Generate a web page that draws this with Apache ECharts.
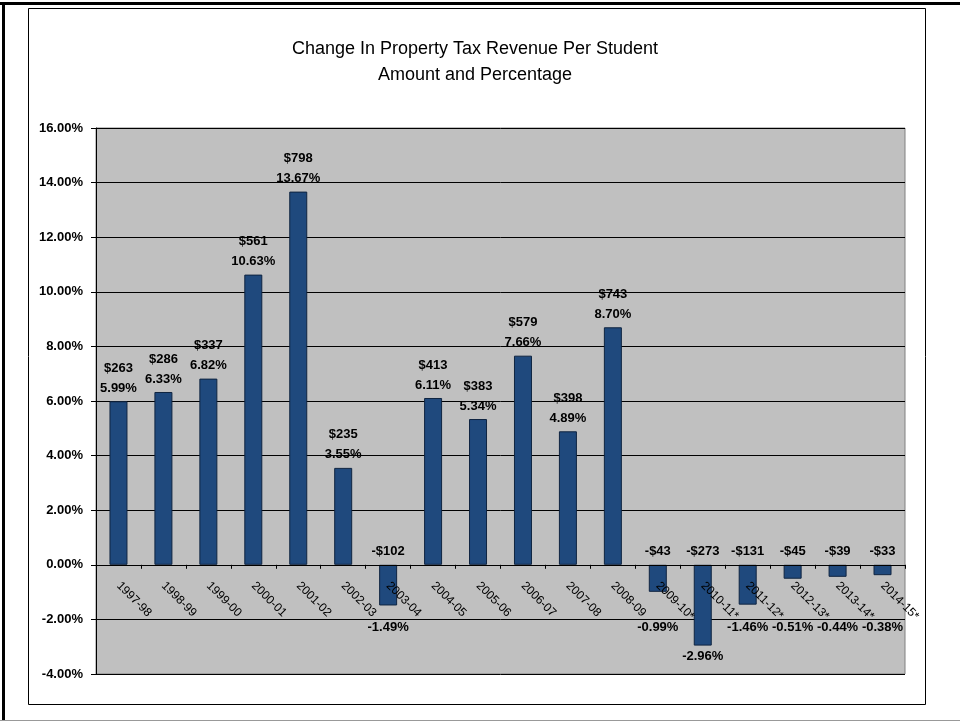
<!DOCTYPE html>
<html>
<head>
<meta charset="utf-8">
<script src="https://cdn.jsdelivr.net/npm/echarts@6/dist/echarts.min.js"></script>
<style>
html,body{margin:0;padding:0;background:#fff;}
#chart{width:960px;height:721px;}
</style>
</head>
<body>
<div id="chart"></div>
<script>
const categories = ['1997-98','1998-99','1999-00','2000-01','2001-02','2002-03','2003-04','2004-05','2005-06','2006-07','2007-08','2008-09','2009-10*','2010-11*','2011-12*','2012-13*','2013-14*','2014-15*'];
const pctChange = [5.99,6.33,6.82,10.63,13.67,3.55,-1.49,6.11,5.34,7.66,4.89,8.70,-0.99,-2.96,-1.46,-0.51,-0.44,-0.38];
const dollarChange = [263,286,337,561,798,235,-102,413,383,579,398,743,-43,-273,-131,-45,-39,-33];
const yTicks = {min: -4, max: 16, step: 2};
const titleLines = ['Change In Property Tax Revenue Per Student', 'Amount and Percentage'];

const fmtDollar = v => (v < 0 ? '-$' : '$') + Math.abs(v);
const fmtPct = v => v.toFixed(2) + '%';
const labelFont = {fontFamily: 'Liberation Sans, Arial, sans-serif', fontWeight: 'bold', fontSize: 13, color: '#000'};

const grid = {left: 96, right: 55, top: 128, bottom: 47};
const gridHeight = 721 - grid.top - grid.bottom;
// category axis sits on the zero line of the value axis
const zeroOffset = -gridHeight * (0 - yTicks.min) / (yTicks.max - yTicks.min);
const zeroY = grid.top + gridHeight * yTicks.max / (yTicks.max - yTicks.min);

const chart = echarts.init(document.getElementById('chart'));
chart.setOption({
  animation: false,
  backgroundColor: '#fff',
  title: {
    text: titleLines.join('\n'),
    left: 470, top: 31, textAlign: 'center',
    textStyle: {fontFamily: 'Liberation Sans Narrow, Arial Narrow, Liberation Sans, sans-serif', fontWeight: 'normal', fontSize: 18, lineHeight: 26, color: '#000'}
  },
  graphic: [
    {type: 'rect', shape: {x: 28.5, y: 8.5, width: 897, height: 696}, style: {fill: null, stroke: '#000', lineWidth: 1}, z: -1},
    {type: 'line', shape: {x1: 0, y1: 3.5, x2: 960, y2: 3.5}, style: {stroke: '#000', lineWidth: 3}},
    {type: 'line', shape: {x1: 3.5, y1: 2, x2: 3.5, y2: 721}, style: {stroke: '#000', lineWidth: 3}},
    {type: 'line', shape: {x1: 0, y1: 720.5, x2: 960, y2: 720.5}, style: {stroke: '#999', lineWidth: 1}}
  ],
  grid: Object.assign({show: true, backgroundColor: '#c0c0c0', borderColor: '#808080', borderWidth: 1}, grid),
  xAxis: {
    type: 'category',
    data: categories,
    position: 'bottom',
    offset: zeroOffset,
    z: 5,
    axisLine: {onZero: false, lineStyle: {color: '#000', width: 1}},
    axisTick: {show: true, length: 4, lineStyle: {color: '#000'}},
    axisLabel: {rotate: -45, margin: 19, interval: 0, fontFamily: 'Liberation Sans, Arial, sans-serif', fontSize: 12, color: '#000'}
  },
  yAxis: {
    type: 'value',
    min: yTicks.min, max: yTicks.max, interval: yTicks.step,
    axisLine: {show: true, lineStyle: {color: '#000'}},
    axisTick: {show: true, length: 5, lineStyle: {color: '#000'}},
    splitLine: {show: true, lineStyle: {color: '#000', width: 1}},
    axisLabel: {margin: 13, formatter: v => fmtPct(v), fontFamily: 'Liberation Sans, Arial, sans-serif', fontWeight: 'bold', fontSize: 13, color: '#000'}
  },
  series: [
    {
      type: 'bar',
      data: pctChange,
      barWidth: 18,
      itemStyle: {color: '#1f497d', borderColor: '#0f2440', borderWidth: 1},
      label: Object.assign({
        show: true, position: 'top', distance: 3, lineHeight: 20,
        formatter: p => p.value >= 0 ? fmtDollar(dollarChange[p.dataIndex]) + '\n' + fmtPct(p.value) : fmtDollar(dollarChange[p.dataIndex])
      }, labelFont)
    },
    {
      type: 'bar',
      data: pctChange,
      barWidth: 18,
      barGap: '-100%',
      silent: true,
      itemStyle: {color: 'rgba(0,0,0,0)', borderWidth: 0},
      label: Object.assign({
        show: true, position: 'bottom', distance: 6,
        formatter: p => p.value < 0 ? fmtPct(p.value) : ''
      }, labelFont),
      // negative percentages sit below the rotated category labels, or just below the bar end
      labelLayout: p => ({
        x: p.rect.x + p.rect.width / 2,
        y: Math.max(p.rect.y + p.rect.height + 11, zeroY + 63),
        align: 'center',
        verticalAlign: 'middle'
      })
    }
  ]
});
</script>
</body>
</html>
